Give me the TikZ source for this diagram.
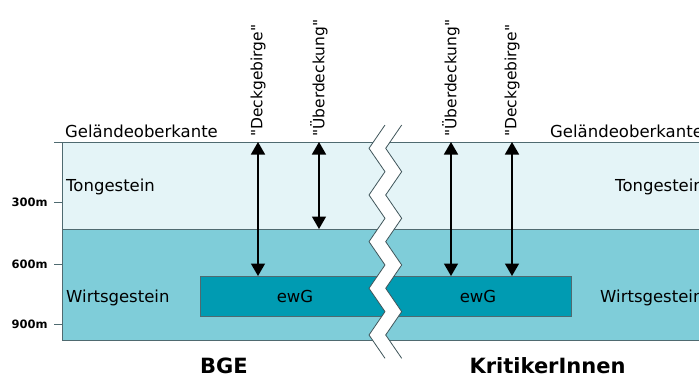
\documentclass[tikz,border=0pt]{standalone}
\usepackage{fontspec}
\setmainfont{DejaVu Sans}
\usetikzlibrary{arrows.meta}
\definecolor{tonfarbe}{HTML}{E4F4F7}
\definecolor{wirtfarbe}{HTML}{7FCDD9}
\definecolor{ewgfarbe}{HTML}{009BB2}
\definecolor{rand}{HTML}{4F6A70}
\begin{document}
\begin{tikzpicture}[x=1pt,y=-1pt,
        every node/.style={font=\fontsize{16.5}{19}\selectfont, inner sep=0pt},
        tiefe/.style={font=\fontsize{11.5}{13}\bfseries\selectfont, anchor=east},
        titel/.style={font=\fontsize{21}{24}\bfseries\selectfont, anchor=base},
        senkrecht/.style={rotate=90, anchor=west, font=\fontsize{15.5}{18}\selectfont},
        pfeil/.style={{Triangle[width=14pt,length=12.5pt]}-{Triangle[width=14pt,length=12.5pt]}, line width=1.6pt},
        schicht/.style={draw=rand, line width=0.8pt}]
    \useasboundingbox (0,0) rectangle (699,376);
    \begin{scope}
        \clip (0,0) rectangle (699,376);
        % Schichten
        \coordinate (gok) at (62,142);
        \coordinate (grenze) at (62,229);
        \filldraw[schicht, fill=tonfarbe] (gok) rectangle (710,229);
        \filldraw[schicht, fill=wirtfarbe] (grenze) rectangle (710,340);
        \draw[schicht] (54,142) -- (gok);
        \foreach \t/\y in {300m/202.7, 600m/264, 900m/324}
            \draw[schicht] (54,\y) -- (62,\y) node[tiefe, xshift=-6pt] (t\t) at (54,\y) {\t};
        \node[schicht, fill=ewgfarbe, minimum width=371pt, minimum height=40pt, anchor=north west] (ewg) at (200,276) {};

        % Bruch
        \foreach \i in {0,...,10}{
            \pgfmathsetmacro{\bx}{isodd(\i) ? 369 : 385}
            \coordinate (l\i) at (\bx,125+23.33*\i);
            \coordinate (r\i) at (\bx+16.7,125+23.33*\i);
        }
        \fill[white] (l0) \foreach \i in {1,...,10}{-- (l\i)} -- (r10) \foreach \i in {9,8,...,0}{-- (r\i)} -- cycle;
        \draw[rand!80!black, line width=0.8pt] (l0) \foreach \i in {1,...,10}{-- (l\i)};
        \draw[rand!80!black, line width=0.8pt] (r0) \foreach \i in {1,...,10}{-- (r\i)};

        % Beschriftung
        \node[anchor=base west] (gokL) at (65,137) {Geländeoberkante};
        \node[anchor=base west] (gokR) at (550,137) {Geländeoberkante};
        \node[anchor=base west] (tonL) at (66,191) {Tongestein};
        \node[anchor=base west] (tonR) at (615,191) {Tongestein};
        \node[anchor=base west] (wirtL) at (66,302) {Wirtsgestein};
        \node[anchor=base west] (wirtR) at (600,302) {Wirtsgestein};
        \node[anchor=base] (ewgL) at (295,302) {ewG};
        \node[anchor=base] (ewgR) at (478,302) {ewG};

        \node[senkrecht] (dgL) at (258,137) {\textquotedbl Deckgebirge\textquotedbl};
        \node[senkrecht] (udL) at (319,137) {\textquotedbl Überdeckung\textquotedbl};
        \node[senkrecht] (udR) at (451,137) {\textquotedbl Überdeckung\textquotedbl};
        \node[senkrecht] (dgR) at (512,137) {\textquotedbl Deckgebirge\textquotedbl};
        \draw[pfeil] (dgL.west |- gok) -- (dgL.west |- ewg.north);
        \draw[pfeil] (udL.west |- gok) -- (udL.west |- grenze);
        \draw[pfeil] (udR.west |- gok) -- (udR.west |- ewg.north);
        \draw[pfeil] (dgR.west |- gok) -- (dgR.west |- ewg.north);

        \node[titel] (bge) at (224,373) {BGE};
        \node[titel] (kritik) at (547.5,373) {KritikerInnen};
    \end{scope}
\end{tikzpicture}
\end{document}
